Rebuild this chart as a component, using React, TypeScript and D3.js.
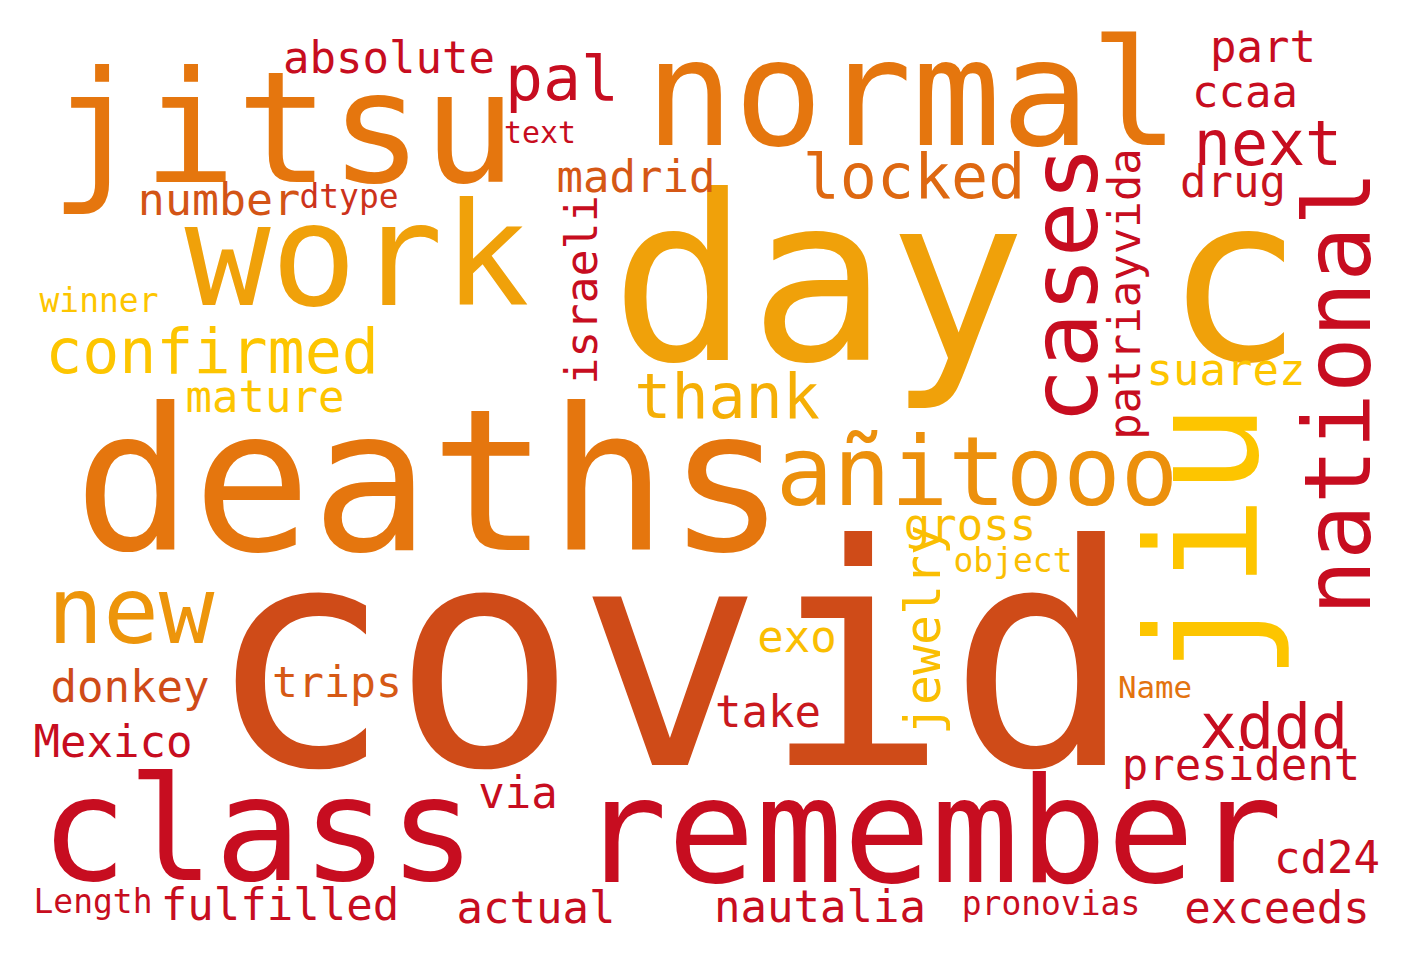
import * as d3 from "d3"

const WIDTH = 1419
const HEIGHT = 966

// word list and relative weight (covid = 1)
const words = [
  "covid", "deaths", "day c", "jitsu", "normal", "remember", "class", "work",
  "jiu", "añitooo", "new", "cases", "national", "confirmed", "thank", "locked",
  "pal", "next", "xddd", "absolute", "madrid", "number", "part", "ccaa",
  "drug", "mature", "suarez", "gross", "exo", "take", "trips", "donkey",
  "Mexico", "president", "via", "cd24", "fulfilled", "actual", "nautalia", "exceeds",
  "israeli", "patriayvida", "jewelry", "text", "dtype", "winner", "object", "Name",
  "Length", "pronovias",
]
const weights = [
  1, 0.64, 0.747, 0.503, 0.48, 0.474, 0.47, 0.465,
  0.5, 0.31, 0.3, 0.3, 0.3, 0.2, 0.2, 0.2,
  0.205, 0.2, 0.2, 0.143, 0.143, 0.146, 0.143, 0.143,
  0.143, 0.143, 0.143, 0.143, 0.143, 0.143, 0.14, 0.143,
  0.143, 0.143, 0.143, 0.143, 0.143, 0.143, 0.143, 0.143,
  0.146, 0.143, 0.162, 0.097, 0.107, 0.107, 0.107, 0.1,
  0.107, 0.107,
]
// colour tone: 0 = crimson ... 1 = yellow
const tones = [
  0.25, 0.5, 0.75, 0.5, 0.5, 0, 0, 0.75,
  1, 0.65, 0.68, 0, 0, 1, 0.85, 0.42,
  0, 0, 0, 0, 0.32, 0.3, 0, 0,
  0.03, 1, 1, 0.95, 0.95, 0.05, 0.33, 0.25,
  0, 0, 0, 0, 0, 0, 0, 0,
  0, 0, 0.95, 0, 0.15, 1, 0.95, 0.48,
  0, 0,
]
const vertical = [
  "cases", "national", "jiu", "jewelry", "israeli", "patriayvida",
]

// placement found by the cloud layout (image units: centre x, baseline y)
const layoutX = [
  645, 405, 932, 258, 887, 906, 233, 332,
  1232, 952, 106, 1072, 1345, 187, 702, 889,
  537, 1243, 1249, 364, 611, 194, 1238, 1220,
  1208, 240, 1201, 945, 772, 743, 312, 105,
  88, 1216, 493, 1302, 255, 511, 795, 1252,
  572, 1115, 915, 515, 324, 74, 988, 1130,
  68, 1026,
]
const layoutY = [
  743, 528, 338, 160, 123, 860, 858, 283,
  520, 483, 621, 263, 371, 351, 396, 176,
  78, 143, 726, 51, 170, 193, 40, 85,
  175, 390, 363, 518, 630, 705, 675, 680,
  735, 758, 786, 851, 898, 901, 900, 901,
  268, 272, 608, 121, 186, 290, 550, 676,
  891, 893,
]

const palette = ["#c70d20", "#cf4b18", "#e5760e", "#f0a10a", "#fdc500"]

export default function App() {
  const xScale = d3.scaleLinear().domain([0, 1370]).range([25, 1395])
  const yScale = d3.scaleLinear().domain([0, 913]).range([22, 935])
  const sizeScale = d3.scaleLinear().domain([0, 1]).range([0, 308])
  const color = d3
    .scaleLinear<string>()
    .domain([0, 0.25, 0.5, 0.75, 1])
    .range(palette)
    .interpolate(d3.interpolateRgb)

  const items = words.map((w, i) => ({
    text: w,
    x: xScale(layoutX[i]),
    y: yScale(layoutY[i]),
    size: sizeScale(weights[i]),
    fill: color(tones[i]),
    rotate: vertical.includes(w) ? -90 : 0,
  }))

  return (
    <svg
      width={WIDTH}
      height={HEIGHT}
      style={{ position: "absolute", left: 0, top: 0, background: "#fff" }}
    >
      <rect width={WIDTH} height={HEIGHT} fill="#fff" />
      {items.map((d) => (
        <text
          key={d.text}
          transform={`translate(${d.x},${d.y}) rotate(${d.rotate})`}
          textAnchor="middle"
          fontFamily="'DejaVu Sans Mono', monospace"
          fontSize={d.size}
          fill={d.fill}
          style={{ whiteSpace: "pre" }}
        >
          {d.text}
        </text>
      ))}
    </svg>
  )
}
